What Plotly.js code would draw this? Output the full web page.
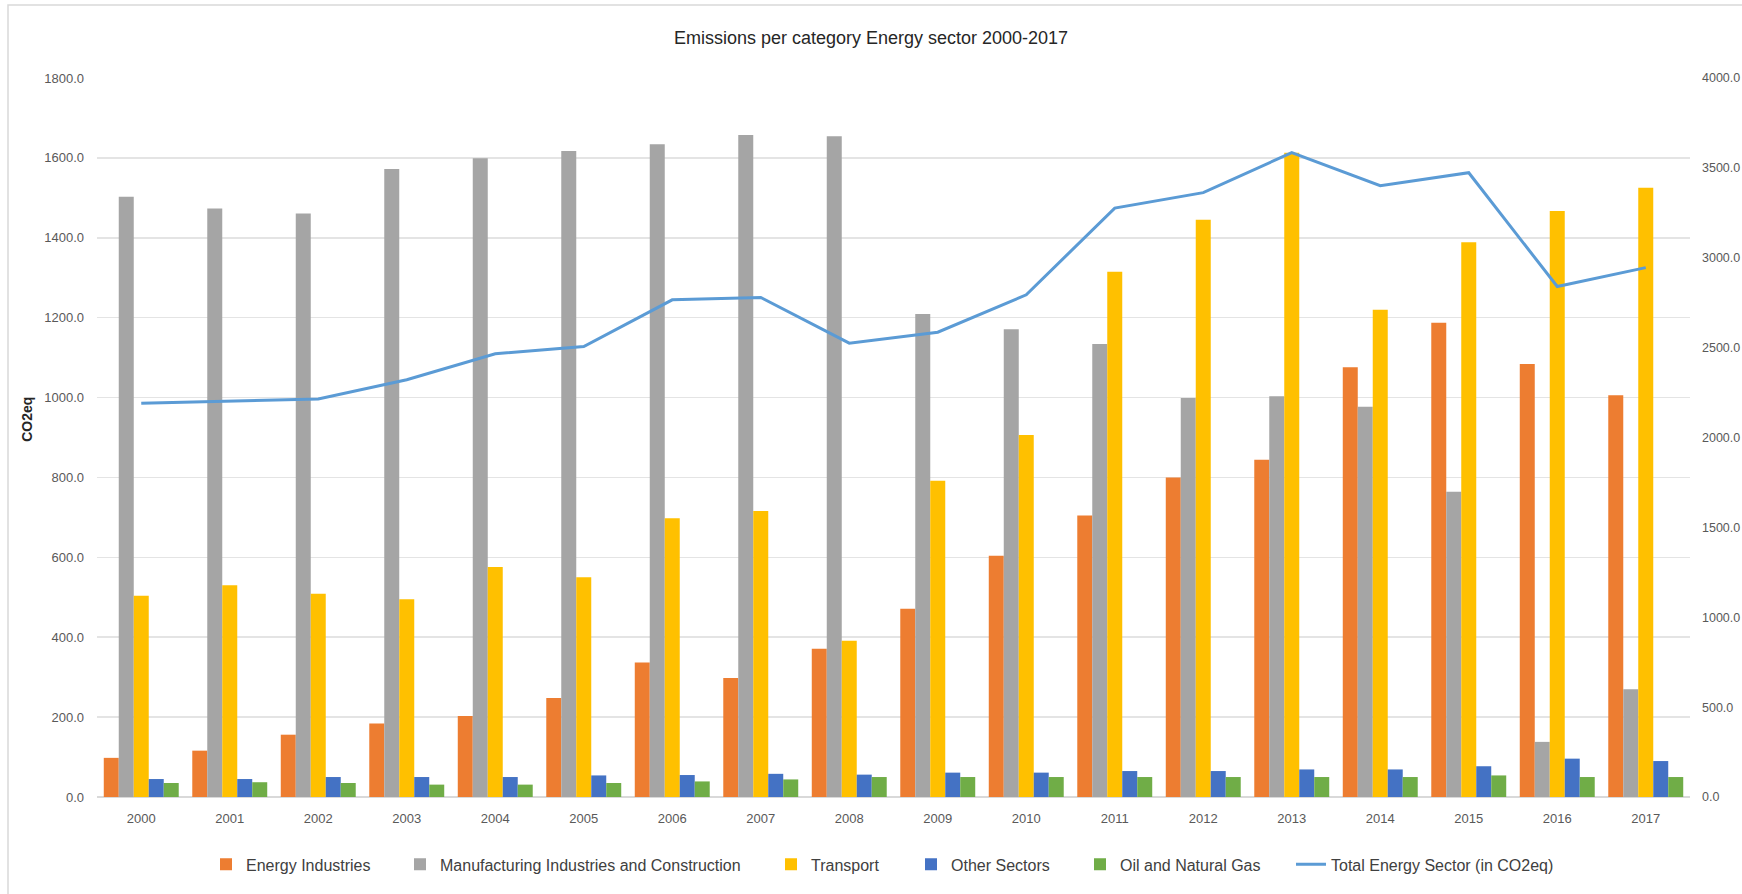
<!DOCTYPE html>
<html>
<head>
<meta charset="utf-8">
<script src="https://cdn.plot.ly/plotly-3.0.1.min.js"></script>
<style>html,body{margin:0;padding:0;background:#fff;}#chart{width:1742px;height:894px;}</style>
</head>
<body>
<div id="chart"></div>
<script>
const years = ["2000","2001","2002","2003","2004","2005","2006","2007","2008","2009","2010","2011","2012","2013","2014","2015","2016","2017"];
const energyIndustries = [98,116,156,184,203,248,337,298,371,471,604,705,800,844,1076,1187,1084,1006];
const manufacturing = [1503,1473,1461,1572,1599,1617,1634,1657,1654,1209,1171,1134,999,1003,977,764,138,270];
const transport = [504,530,509,495,576,550,698,716,391,792,906,1315,1445,1613,1220,1389,1467,1525];
const otherSectors = [45,45,50,50,50,54,55,58,56,61,61,65,65,69,69,77,96,90];
const oilGas = [35,37,35,31,31,35,39,44,50,50,50,50,50,50,50,54,50,50];
const totalEnergy = [2191,2204,2214,2321,2466,2506,2766,2779,2525,2586,2794,3276,3362,3585,3401,3473,2840,2945];

const FONT = "'Liberation Sans', Arial, sans-serif";

function bar(name, y, color, lg) {
  return {type: 'bar', name: name, x: years, y: y, marker: {color: color, line: {width: 0}}, yaxis: 'y', legend: lg};
}
const traces = [
  bar('Energy Industries', energyIndustries, '#ED7D31', 'legend'),
  bar('Manufacturing Industries and Construction', manufacturing, '#A5A5A5', 'legend2'),
  bar('Transport', transport, '#FFC000', 'legend3'),
  bar('Other Sectors', otherSectors, '#4472C4', 'legend4'),
  bar('Oil and Natural Gas', oilGas, '#70AD47', 'legend5'),
  {type: 'scatter', mode: 'lines', name: 'Total Energy Sector (in CO2eq)', x: years, y: totalEnergy,
   yaxis: 'y2', line: {color: '#5B9BD5', width: 3}, legend: 'legend6'}
];

// plot area: x 97..1690, y 78..797.5
const L = 97, R = 1742 - 1690, T = 78, B = 894 - 797.5;
const PW = 1742 - L - R, PH = 894 - T - B;
const px = v => (v - L) / PW;
const py = v => (894 - B - v) / PH;

function leg(textStart) {
  return {orientation: 'h', x: px(textStart - 40), xanchor: 'left', y: py(865), yanchor: 'middle',
          font: {family: FONT, size: 16, color: '#404040'}, bgcolor: 'rgba(0,0,0,0)', borderwidth: 0};
}

const layout = {
  width: 1742, height: 894,
  margin: {l: L, r: R, t: T, b: B, pad: 0},
  paper_bgcolor: '#fff', plot_bgcolor: '#fff',
  font: {family: FONT, color: '#595959', size: 13},
  title: {text: 'Emissions per category Energy sector 2000-2017', font: {family: FONT, size: 18, color: '#262626'},
          x: 0.5, xanchor: 'center', xref: 'container', y: 1 - 38 / 894, yanchor: 'middle', yref: 'container'},
  barmode: 'group', bargap: 0.153, bargroupgap: 0,
  showlegend: true,
  legend: leg(246), legend2: leg(440), legend3: leg(811), legend4: leg(951), legend5: leg(1120), legend6: leg(1331),
  xaxis: {type: 'category', showgrid: false, showline: false, zeroline: false, ticks: '',
          tickfont: {family: FONT, size: 13, color: '#595959'}, ticklabelstandoff: 12, fixedrange: true},
  yaxis: {range: [0, 1800], dtick: 200, tickformat: '.1f', showgrid: true, gridcolor: '#E4E4E4', gridwidth: 1.5,
          zeroline: true, zerolinecolor: '#D9D9D9', zerolinewidth: 1.5, showline: false, ticks: '',
          tickfont: {family: FONT, size: 13, color: '#595959'}, ticklabelstandoff: 12, fixedrange: true},
  yaxis2: {range: [0, 4000], dtick: 500, tickformat: '.1f', overlaying: 'y', side: 'right', showgrid: false,
           zeroline: false, showline: false, ticks: '',
           tickfont: {family: FONT, size: 12.5, color: '#595959'}, ticklabelstandoff: 11, fixedrange: true},
  annotations: [
    {text: '<b>CO2eq</b>', xref: 'paper', yref: 'paper', x: px(27), y: py(420), textangle: -90,
     showarrow: false, xanchor: 'center', yanchor: 'middle', font: {family: FONT, size: 14, color: '#262626'}}
  ],
  shapes: [
    {type: 'rect', xref: 'paper', yref: 'paper', x0: px(8), x1: px(1760), y0: py(910), y1: py(5),
     line: {color: '#D9D9D9', width: 1.5}, fillcolor: 'rgba(0,0,0,0)', layer: 'below'}
  ]
};

Plotly.newPlot('chart', traces, layout, {staticPlot: true, displayModeBar: false});
</script>
</body>
</html>
